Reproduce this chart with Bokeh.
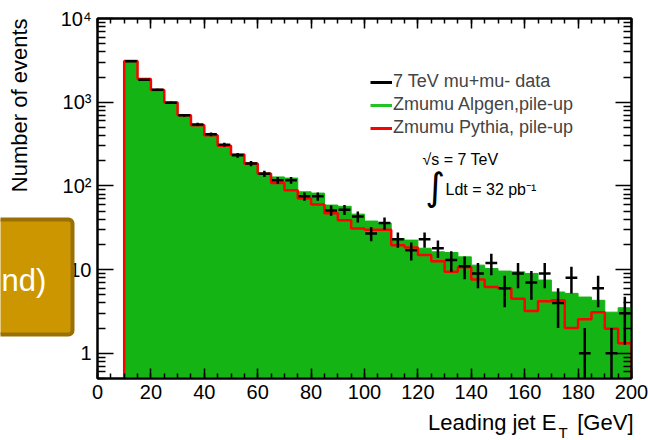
import numpy as np
from bokeh.plotting import figure
from bokeh.models import (Range1d, LogAxis, LinearAxis, Label, FixedTicker,
                          Legend, LegendItem, BoxAnnotation, CustomJSTickFormatter, GridBox)
from bokeh.embed import file_html
from bokeh.resources import INLINE

# ---------------- data ----------------
bin_low = [10, 15, 20, 25, 30, 35, 40, 45, 50, 55,
           60, 65, 70, 75, 80, 85, 90, 95, 100, 105,
           110, 115, 120, 125, 130, 135, 140, 145, 150, 155,
           160, 165, 170, 175, 180, 185, 190, 195]
bin_width = 5

data_counts = [3095, 1856, 1410, 986, 696, 543, 413, 311, 232, 185,
               140, 117, 117, 75, 75, 51, 52, 43, 27, 36,
               23, 17, 23, 18, 13, 11, 9, 12, 6, 9,
               7, 9, 4, 8, 1, 6, 1, 3]

alpgen = [3110, 1880, 1405, 994, 696, 535, 405, 305, 238, 188,
          143, 128, 124, 85, 82, 59, 57, 46, 38, 36,
          23.5, 22.5, 18, 16.3, 16, 14.2, 11.3, 10.3, 9.6, 9.4,
          9.0, 7.5, 5.4, 5.2, 4.7, 4.3, 3.1, 3.5]

pythia = [3110, 1897, 1402, 994, 696, 529, 402, 301, 238, 185,
          140, 108, 89, 70.5, 60, 47, 39, 31, 30, 30,
          19.5, 18.4, 14.9, 12.6, 9.4, 10.7, 7.6, 6.2, 6.0, 4.5,
          3.2, 4.2, 4.3, 2.0, 2.56, 3.1, 1.97, 1.32]

legend_labels = ["7 TeV mu+mu- data", "Zmumu Alpgen,pile-up", "Zmumu Pythia, pile-up"]
x_ticks = [0, 20, 40, 60, 80, 100, 120, 140, 160, 180, 200]
y_ticks = [1, 10, 100, 1000, 10000]
y_tick_labels = ["1", "10", "10\u00b2", "10\u00b3", "10\u2074"]

# ---------------- style ----------------
FONT = "Liberation Sans"
GREEN = "#14b414"
RED = "#ff0000"
FLOOR = 1e-3
X0, X1, Y0, Y1 = 0.0, 200.0, 0.5, 1e4
W, H = 648, 440
FL, FR, FT, FB = 97, 631, 18, 378   # frame edges in canvas pixels

p = figure(width=W, height=H, x_range=Range1d(X0, X1), y_range=Range1d(Y0, Y1),
           y_axis_type="log", output_backend="svg", toolbar_location=None,
           min_border_left=FL, min_border_right=W - FR, min_border_top=FT,
           min_border_bottom=H - FB)
p.background_fill_color = "white"
p.border_fill_color = "white"
p.grid.visible = False
p.outline_line_color = "black"
p.outline_line_width = 2

x_minor = list(range(0, 201, 5))
y_minor = [m * 10.0 ** k for k in range(-1, 4) for m in range(2, 10)]
xticker = FixedTicker(ticks=x_ticks, minor_ticks=x_minor)
yticker = FixedTicker(ticks=y_ticks, minor_ticks=y_minor)


def style(ax, major_len, minor_len, show_labels=True):
    ax.axis_line_color = "black"
    ax.axis_line_width = 2
    ax.major_tick_line_color = "black"
    ax.minor_tick_line_color = "black"
    ax.major_tick_line_width = 1.5
    ax.minor_tick_line_width = 1.5
    ax.major_tick_in = major_len
    ax.major_tick_out = 0
    ax.minor_tick_in = minor_len
    ax.minor_tick_out = 0
    ax.major_label_text_font = FONT
    ax.major_label_text_color = "black"
    ax.major_label_text_font_size = "20px"
    if not show_labels:
        ax.formatter = CustomJSTickFormatter(code="return ''")
        ax.major_label_standoff = 0


xa = p.xaxis[0]
xa.ticker = xticker
style(xa, 10, 5)
xa.major_label_standoff = 6

ya = p.yaxis[0]
ya.ticker = yticker
style(ya, 16, 8)
ya.major_label_standoff = 6
ya.major_label_overrides = {t: s for t, s in zip(y_ticks, y_tick_labels)}

top = LinearAxis(ticker=xticker)
style(top, 10, 5, show_labels=False)
p.add_layout(top, "above")
right = LogAxis(ticker=yticker)
style(right, 16, 8, show_labels=False)
p.add_layout(right, "right")

# ---------------- histograms ----------------
lo = np.array(bin_low, dtype=float)
hi = lo + bin_width


def step_xy(vals):
    xs = [lo[0]]
    ys = [FLOOR]
    for l, h, v in zip(lo, hi, vals):
        xs += [l, h]
        ys += [v, v]
    xs.append(hi[-1])
    ys.append(FLOOR)
    return xs, ys


gx, gy = step_xy(alpgen)
p.patch(gx, gy, fill_color=GREEN, line_color=GREEN, line_width=1)

rx, ry = step_xy(pythia)
p.line(rx, ry, line_color=RED, line_width=2.5)

# ---------------- data points ----------------
centers = lo + bin_width / 2
n = np.array(data_counts, dtype=float)
err = np.sqrt(n)
p.segment(x0=centers, y0=np.maximum(n - err, FLOOR), x1=centers, y1=n + err,
          line_color="black", line_width=2.5)
p.segment(x0=centers - 2.2, y0=n, x1=centers + 2.2, y1=n,
          line_color="black", line_width=2.5)

# ---------------- legend ----------------
nan = [float("nan")]
r_d = p.line(x=nan, y=nan, line_color="black", line_width=3)
r_a = p.line(x=nan, y=nan, line_color="#22c322", line_width=3)
r_p = p.line(x=nan, y=nan, line_color=RED, line_width=3)
legend = Legend(items=[LegendItem(label=legend_labels[0], renderers=[r_d]),
                       LegendItem(label=legend_labels[1], renderers=[r_a]),
                       LegendItem(label=legend_labels[2], renderers=[r_p])],
                location=(273, 240), orientation="vertical",
                background_fill_alpha=0, border_line_color=None,
                label_text_font=FONT, label_text_font_size="18px",
                glyph_width=22, glyph_height=20, label_height=20,
                label_standoff=1, spacing=2, padding=0, margin=0)
p.add_layout(legend)

# ---------------- overlay in canvas pixels (texts outside the frame) ----------------
q = figure(width=W, height=H, x_range=Range1d(0, W), y_range=Range1d(H, 0),
           x_axis_location=None, y_axis_location=None,
           output_backend="svg", toolbar_location=None, min_border=0)
q.grid.visible = False
q.outline_line_color = None
q.background_fill_color = None
q.border_fill_color = None
for fig in (p, q):
    try:
        fig.frame_align = False
    except Exception:
        pass


def lab(px, py, text, size, **kw):
    opts = dict(x=px, y=py, text=text,
                text_font=FONT, text_font_size=size, text_color="black")
    opts.update(kw)
    q.add_layout(Label(**opts))


lab(422, 167, "\u221as = 7 TeV", "16px")
lab(425, 208, "\u222b", "38px", text_font="DejaVu Sans")
lab(445, 197, "Ldt = 32 pb\u207b\u00b9", "16px")

# axis titles
lab(19, 18, "Number of events", "22px", angle=90, angle_units="deg",
    text_align="right", text_baseline="middle")
lab(556, 434, "Leading jet E", "22px", text_align="right")
lab(558, 440, "T", "15px")
lab(633, 434, "[GeV]", "22px", text_align="right")

# overlay box from the slide
box = BoxAnnotation(left=-10, right=72, top=219, bottom=334,
                    fill_color="#cc9600", fill_alpha=1,
                    line_color="#9a7004", line_width=4, line_alpha=1)
try:
    box.border_radius = 4
except Exception:
    pass
q.add_layout(box)
lab(1, 280, "nd)", "31px", text_color="white", text_align="left",
    text_baseline="middle")

layout = GridBox(children=[(p, 0, 0), (q, 0, 0)])
open("out.html", "w").write(file_html(layout, INLINE))
